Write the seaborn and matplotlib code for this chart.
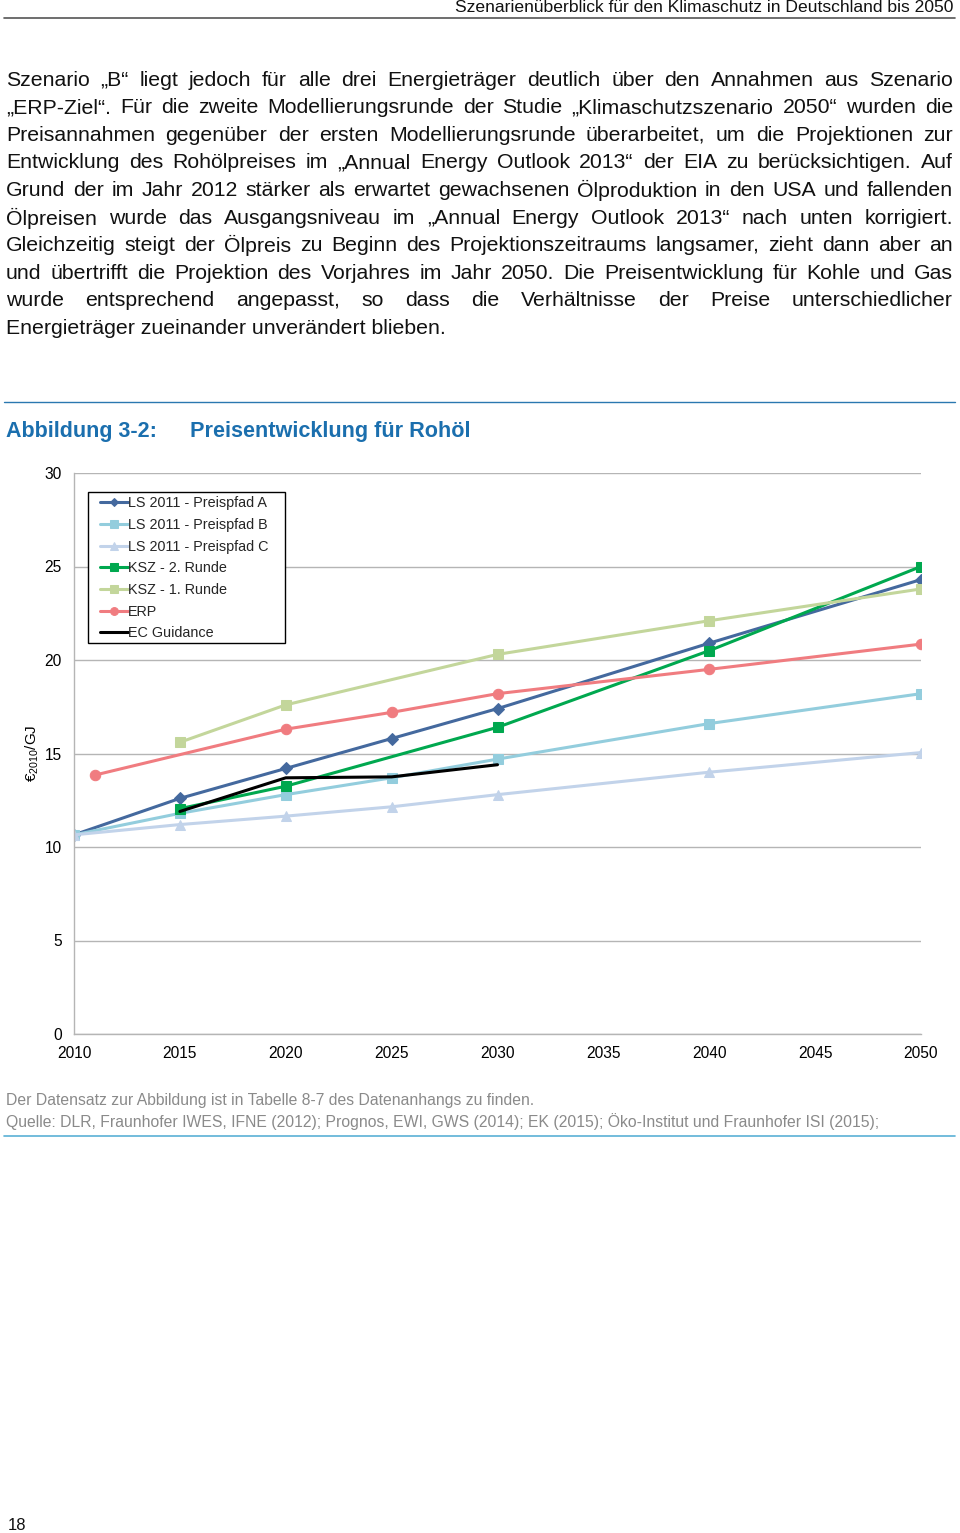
import numpy as np
import pandas as pd
import matplotlib
matplotlib.use('Agg')
import matplotlib.pyplot as plt
from matplotlib.lines import Line2D
from matplotlib.patches import Rectangle
import seaborn as sns

# --- data (EUR2010/GJ) ---
years_full = [2010, 2015, 2020, 2025, 2030, 2040, 2050]
ls_a = [10.65, 12.6, 14.2, 15.8, 17.4, 20.9, 24.3]
ls_b = [10.65, 11.8, 12.8, 13.7, 14.7, 16.6, 18.2]
ls_c = [10.65, 11.2, 11.65, 12.15, 12.8, 14.0, 15.05]
years_ksz = [2015, 2020, 2030, 2040, 2050]
ksz_2 = [12.05, 13.25, 16.4, 20.5, 25.0]
ksz_1 = [15.6, 17.6, 20.3, 22.1, 23.8]
years_erp = [2011, 2020, 2025, 2030, 2040, 2050]
erp = [13.85, 16.3, 17.2, 18.2, 19.5, 20.85]
years_ec = [2015, 2020, 2025, 2030]
ec = [11.9, 13.7, 13.75, 14.4]

labels = ['LS 2011 - Preispfad A', 'LS 2011 - Preispfad B', 'LS 2011 - Preispfad C',
          'KSZ - 2. Runde', 'KSZ - 1. Runde', 'ERP', 'EC Guidance']
colors = ['#44699e', '#93cddd', '#c2d3ea', '#00a84f', '#c3d69b', '#f07c80', '#000000']
markers = ['D', 's', '^', 's', 's', 'o', None]
series = [(years_full, ls_a), (years_full, ls_b), (years_full, ls_c),
          (years_ksz, ksz_2), (years_ksz, ksz_1), (years_erp, erp), (years_ec, ec)]

x_ticks = [2010, 2015, 2020, 2025, 2030, 2035, 2040, 2045, 2050]
y_ticks = [0, 5, 10, 15, 20, 25, 30]

header = 'Szenarienüberblick für den Klimaschutz in Deutschland bis 2050'
body_lines = [
    'Szenario „B“ liegt jedoch für alle drei Energieträger deutlich über den Annahmen aus Szenario',
    '„ERP-Ziel“. Für die zweite Modellierungsrunde der Studie „Klimaschutzszenario 2050“ wurden die',
    'Preisannahmen gegenüber der ersten Modellierungsrunde überarbeitet, um die Projektionen zur',
    'Entwicklung des Rohölpreises im „Annual Energy Outlook 2013“ der EIA zu berücksichtigen. Auf',
    'Grund der im Jahr 2012 stärker als erwartet gewachsenen Ölproduktion in den USA und fallenden',
    'Ölpreisen wurde das Ausgangsniveau im „Annual Energy Outlook 2013“ nach unten korrigiert.',
    'Gleichzeitig steigt der Ölpreis zu Beginn des Projektionszeitraums langsamer, zieht dann aber an',
    'und übertrifft die Projektion des Vorjahres im Jahr 2050. Die Preisentwicklung für Kohle und Gas',
    'wurde entsprechend angepasst, so dass die Verhältnisse der Preise unterschiedlicher',
    'Energieträger zueinander unverändert blieben.',
]
notes = ['Der Datensatz zur Abbildung ist in Tabelle 8-7 des Datenanhangs zu finden.',
         'Quelle: DLR, Fraunhofer IWES, IFNE (2012); Prognos, EWI, GWS (2014); EK (2015); '
         'Öko-Institut und Fraunhofer ISI (2015);']

sns.set_theme(style='white')
plt.rcParams['font.family'] = ['Liberation Sans', 'DejaVu Sans']
plt.rcParams['mathtext.fontset'] = 'custom'
plt.rcParams['mathtext.rm'] = 'Liberation Sans'
plt.rcParams['mathtext.it'] = 'Liberation Sans'

W, H = 960, 1533
fig = plt.figure(figsize=(W / 100, H / 100), dpi=100)


def fx(px):
    return px / W


def fy(py):
    return 1 - py / H


def hline(y, x0, x1, color, lw):
    fig.add_artist(Line2D([fx(x0), fx(x1)], [fy(y), fy(y)], color=color, lw=lw,
                          transform=fig.transFigure))


# page header
fig.text(fx(953), fy(7), header, ha='right', va='center', fontsize=12.6, color='#111111')
hline(18, 4, 955, '#555555', 1.2)

# justified body text
renderer = fig.canvas.get_renderer()
left, right = 6, 953
body_fs = 15.3
for i, line in enumerate(body_lines):
    y = fy(80 + i * 27.6)
    if i == len(body_lines) - 1:
        fig.text(fx(left), y, line, ha='left', va='center', fontsize=body_fs, color='#111111')
        continue
    words = line.split(' ')
    objs = [fig.text(0, y, w, ha='left', va='center', fontsize=body_fs, color='#111111')
            for w in words]
    widths = [o.get_window_extent(renderer).width for o in objs]
    gap = (right - left - sum(widths)) / (len(words) - 1)
    x = left
    for o, w in zip(objs, widths):
        o.set_x(fx(x))
        x += w + gap

# figure caption
hline(402, 4, 955, '#2a78b0', 1.0)
fig.text(fx(6), fy(432), 'Abbildung 3-2:', ha='left', va='center', fontsize=15.5,
         fontweight='bold', color='#1b6fae')
fig.text(fx(190), fy(432), 'Preisentwicklung für Rohöl', ha='left', va='center', fontsize=15.6,
         fontweight='bold', color='#1b6fae')

# chart
ax_l, ax_r, ax_t, ax_b = 74, 921, 473, 1034
ax = fig.add_axes([fx(ax_l), fy(ax_b), fx(ax_r) - fx(ax_l), (ax_b - ax_t) / H])
for (xs, ys), lab, col, mk in zip(series, labels, colors, markers):
    sns.lineplot(x=xs, y=ys, ax=ax, color=col, marker=mk, markersize=7.5 if mk != 'D' else 6,
                 markeredgecolor=col, linewidth=2.2, label=lab, sort=False)

ax.set_xlim(2010, 2050)
ax.set_ylim(0, 30)
ax.set_xticks(x_ticks)
ax.set_yticks(y_ticks)
ax.yaxis.grid(True, color='#b5b5b5', lw=1.0)
ax.xaxis.grid(False)
ax.set_axisbelow(True)
for s in ['top', 'right']:
    ax.spines[s].set_visible(False)
for s in ['left', 'bottom']:
    ax.spines[s].set_color('#b5b5b5')
    ax.spines[s].set_linewidth(1.0)
ax.tick_params(axis='both', which='major', labelsize=11.2, colors='#b5b5b5', labelcolor='black',
               length=4, width=1, direction='out')
ax.tick_params(axis='y', pad=5)
ax.tick_params(axis='x', pad=5)
ax.set_xlabel('')
ax.set_ylabel(r'€$_{2010}$/GJ', fontsize=11, color='black', va='center')
ax.yaxis.set_label_coords(-(ax_l - 32) / (ax_r - ax_l), 0.5)


def axc(px, py):
    return (px - ax_l) / (ax_r - ax_l), (ax_b - py) / (ax_b - ax_t)


# legend frame drawn by hand, entries placed inside it
bx0, by0 = axc(88, 643)
bx1, by1 = axc(285, 492)
ax.add_patch(Rectangle((bx0, by0), bx1 - bx0, by1 - by0, transform=ax.transAxes,
                       facecolor='white', edgecolor='black', lw=1.0, zorder=4))
handles, labs = ax.get_legend_handles_labels()
leg = ax.legend(handles, labs, loc='upper left', bbox_to_anchor=axc(100, 496.5),
                borderaxespad=0, borderpad=0, frameon=False, fontsize=10.4, handlelength=1.94,
                handletextpad=0.0, labelspacing=0.53, markerscale=0.75, numpoints=1)
leg.set_zorder(5)

# notes below the chart
for i, t in enumerate(notes):
    fig.text(fx(6), fy(1100 + i * 22), t, ha='left', va='center', fontsize=11.35, color='#8a8a8a')
hline(1136, 4, 955, '#5ab0d6', 1.2)

fig.text(fx(8), fy(1525), '18', ha='left', va='center', fontsize=12, color='#111111')

fig.savefig('out.png', dpi=100)
